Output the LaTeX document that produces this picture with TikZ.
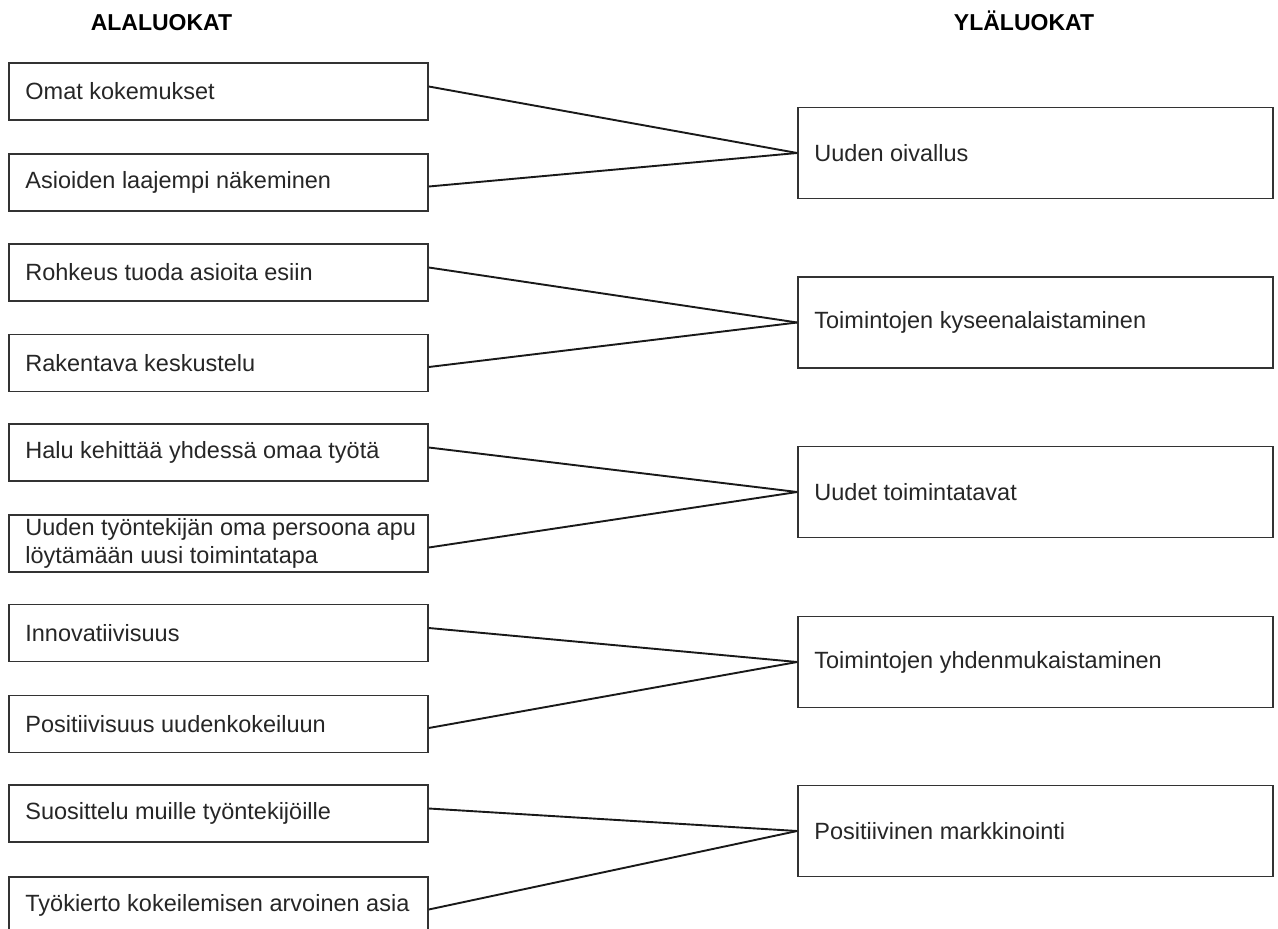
\documentclass[tikz,border=0pt]{standalone}
\usepackage{fontspec}
\setmainfont{Liberation Sans}
\begin{document}
\begin{tikzpicture}[x=1pt,y=-1pt,
  every node/.style={font=\fontsize{23.5}{27.6}\selectfont, text=black!85},
  head/.style={font=\fontsize{23}{27.6}\selectfont\bfseries, text=black, inner sep=0, anchor=base},
  subbox/.style={draw=black!80, line width=1.6pt, minimum width=419pt, minimum height=57pt, inner sep=0},
  mainbox/.style={draw=black!80, line width=1.6pt, minimum width=475pt, minimum height=91pt, inner sep=0},
  label/.style={anchor=west, align=left, inner sep=0},
  link/.style={line width=1.9pt, black!90}]
\useasboundingbox (0,0) rectangle (1278,929);
\clip (0,0) rectangle (1278,929);

% column headings
\node[head] (hleft) at (161.5,30) {ALALUOKAT};
\node[head] (hright) at (1024,30) {YLÄLUOKAT};

% sub-categories (left column)
\node[subbox] (s1) at (218.5,91.5) {};
\node[subbox] (s2) at (218.5,182.5) {};
\node[subbox] (s3) at (218.5,272.5) {};
\node[subbox] (s4) at (218.5,363) {};
\node[subbox] (s5) at (218.5,452.5) {};
\node[subbox] (s6) at (218.5,543.5) {};
\node[subbox] (s7) at (218.5,633) {};
\node[subbox] (s8) at (218.5,724) {};
\node[subbox] (s9) at (218.5,813.5) {};
\node[subbox] (s10) at (218.5,905.5) {};

\node[label] (t1) at ([xshift=17pt]s1.west) {Omat kokemukset};
\node[label] (t2) at ([xshift=17pt]s2.west) {Asioiden laajempi näkeminen};
\node[label] (t3) at ([xshift=17pt]s3.west) {Rohkeus tuoda asioita esiin};
\node[label] (t4) at ([xshift=17pt]s4.west) {Rakentava keskustelu};
\node[label] (t5) at ([xshift=17pt]s5.west) {Halu kehittää yhdessä omaa työtä};
\node[label] (t6) at ([xshift=17pt]s6.west) {Uuden työntekijän oma persoona apu\\löytämään uusi toimintatapa};
\node[label] (t7) at ([xshift=17pt]s7.west) {Innovatiivisuus};
\node[label] (t8) at ([xshift=17pt]s8.west) {Positiivisuus uudenkokeiluun};
\node[label] (t9) at ([xshift=17pt]s9.west) {Suosittelu muille työntekijöille};
\node[label] (t10) at ([xshift=17pt]s10.west) {Työkierto kokeilemisen arvoinen asia};

% main categories (right column)
\node[mainbox] (m1) at (1035.5,153) {};
\node[mainbox] (m2) at (1035.5,322.5) {};
\node[mainbox] (m3) at (1035.5,492) {};
\node[mainbox] (m4) at (1035.5,662) {};
\node[mainbox] (m5) at (1035.5,831) {};

\node[label] (u1) at ([xshift=17pt]m1.west) {Uuden oivallus};
\node[label] (u2) at ([xshift=17pt]m2.west) {Toimintojen kyseenalaistaminen};
\node[label] (u3) at ([xshift=17pt]m3.west) {Uudet toimintatavat};
\node[label] (u4) at ([xshift=17pt]m4.west) {Toimintojen yhdenmukaistaminen};
\node[label] (u5) at ([xshift=17pt]m5.west) {Positiivinen markkinointi};

% connectors: upper box joins a little above its middle, lower box a little below
\draw[link] ([yshift=5pt]s1.east) -- (m1.west);
\draw[link] ([yshift=-4pt]s2.east) -- (m1.west);
\draw[link] ([yshift=5pt]s3.east) -- (m2.west);
\draw[link] ([yshift=-4pt]s4.east) -- (m2.west);
\draw[link] ([yshift=5pt]s5.east) -- (m3.west);
\draw[link] ([yshift=-4pt]s6.east) -- (m3.west);
\draw[link] ([yshift=5pt]s7.east) -- (m4.west);
\draw[link] ([yshift=-4pt]s8.east) -- (m4.west);
\draw[link] ([yshift=5pt]s9.east) -- (m5.west);
\draw[link] ([yshift=-4pt]s10.east) -- (m5.west);
\end{tikzpicture}
\end{document}
